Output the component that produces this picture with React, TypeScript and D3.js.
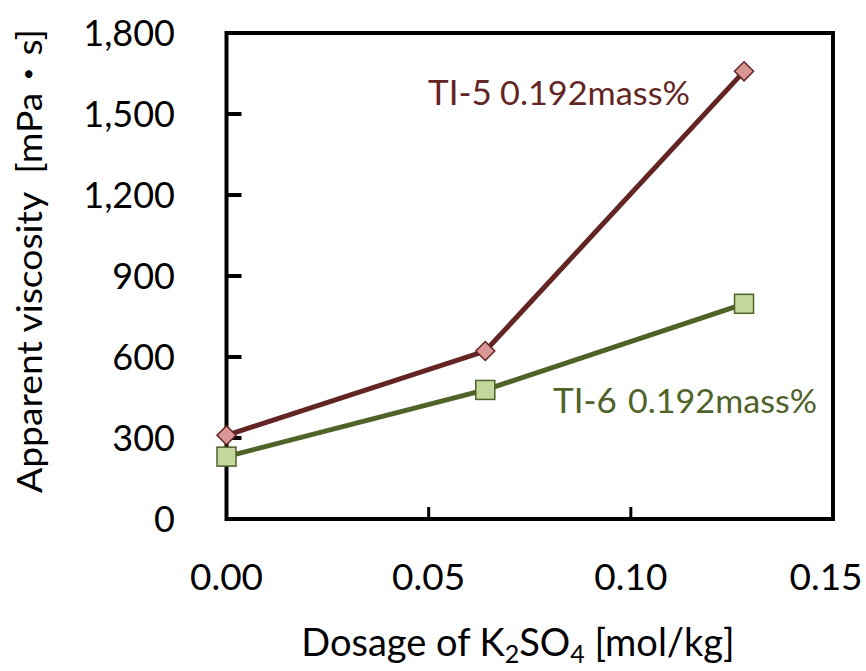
import React from "react";
import * as d3 from "d3";

const dosage = [0.0, 0.064, 0.128];
const ti5 = [310, 622, 1658];
const ti6 = [231, 478, 797];
const yTicks = [0, 300, 600, 900, 1200, 1500, 1800];
const xTicks = [0, 0.05, 0.1, 0.15];
const xInnerTicks = [0.05, 0.1];

const W = 866;
const H = 671;
const FONT = "Lato, 'Open Sans', 'Noto Sans CJK JP', sans-serif";

export default function App() {
  const x = d3.scaleLinear().domain([0, 0.15]).range([226.5, 833]);
  const y = d3.scaleLinear().domain([0, 1800]).range([519, 33]);
  const line = d3
    .line<[number, number]>()
    .x((d) => x(d[0]))
    .y((d) => y(d[1]));
  const s5: [number, number][] = dosage.map((d, i) => [d, ti5[i]]);
  const s6: [number, number][] = dosage.map((d, i) => [d, ti6[i]]);
  const fmt = d3.format(",");
  const red = "#632523";
  const redFill = "#D99694";
  const green = "#4F6228";
  const greenFill = "#C3D69B";
  const sq = 19;
  const dm = 9.5;
  const xLabelHalf = 36;

  return (
    <svg
      width={W}
      height={H}
      style={{ position: "absolute", left: 0, top: 0, background: "#fff" }}
      fontFamily={FONT}
    >
      <rect x={0} y={0} width={W} height={H} fill="#fff" />
      <rect
        x={x(0)}
        y={y(1800)}
        width={x(0.15) - x(0)}
        height={y(0) - y(1800)}
        fill="none"
        stroke="#000"
        strokeWidth={4}
      />
      {yTicks.map((t) => (
        <line key={"yt" + t} x1={x(0)} x2={x(0) + 15} y1={y(t)} y2={y(t)} stroke="#000" strokeWidth={4} />
      ))}
      {xInnerTicks.map((t) => (
        <line key={"xt" + t} x1={x(t)} x2={x(t)} y1={y(0)} y2={y(0) - 12} stroke="#000" strokeWidth={3} />
      ))}
      {yTicks.map((t) => (
        <text key={"yl" + t} x={175} y={y(t)} dy="0.36em" textAnchor="end" fontSize={36} fill="#000">
          {fmt(t)}
        </text>
      ))}
      {xTicks.map((t) => (
        <text
          key={"xl" + t}
          x={Math.min(x(t), W - 4 - xLabelHalf)}
          y={590}
          textAnchor="middle"
          fontSize={37}
          fill="#000"
        >
          {t.toFixed(2)}
        </text>
      ))}
      <text
        transform={`translate(42,261) rotate(-90)`}
        textAnchor="middle"
        fontSize={35}
        fill="#000"
        textLength={464}
        lengthAdjust="spacingAndGlyphs"
        style={{ whiteSpace: "pre" }}
      >
        {"Apparent viscosity  [mPa\u30FBs]"}
      </text>
      <text x={518} y={656} textAnchor="middle" fontSize={38} fill="#000">
        <tspan>Dosage of K</tspan>
        <tspan dy={7} fontSize={25}>2</tspan>
        <tspan dy={-7}>SO</tspan>
        <tspan dy={7} fontSize={25}>4</tspan>
        <tspan dy={-7}> [mol/kg]</tspan>
      </text>
      <path d={line(s5) || ""} fill="none" stroke={red} strokeWidth={5} />
      <path d={line(s6) || ""} fill="none" stroke={green} strokeWidth={5} />
      {s5.map((d, i) => (
        <path
          key={"m5" + i}
          d={`M${x(d[0])},${y(d[1]) - dm}L${x(d[0]) + dm},${y(d[1])}L${x(d[0])},${y(d[1]) + dm}L${x(d[0]) - dm},${y(d[1])}Z`}
          fill={redFill}
          stroke={red}
          strokeWidth={1.5}
        />
      ))}
      {s6.map((d, i) => (
        <rect
          key={"m6" + i}
          x={x(d[0]) - sq / 2}
          y={y(d[1]) - sq / 2}
          width={sq}
          height={sq}
          fill={greenFill}
          stroke={green}
          strokeWidth={1.5}
        />
      ))}
      <text x={428} y={105} fill={red} fontSize={35}>
        TI-5
      </text>
      <text x={500} y={105} fill={red} fontSize={32} textLength={190} lengthAdjust="spacingAndGlyphs">
        0.192mass%
      </text>
      <text x={553} y={413} fill={green} fontSize={35}>
        TI-6
      </text>
      <text x={628} y={413} fill={green} fontSize={32} textLength={189} lengthAdjust="spacingAndGlyphs">
        0.192mass%
      </text>
    </svg>
  );
}
